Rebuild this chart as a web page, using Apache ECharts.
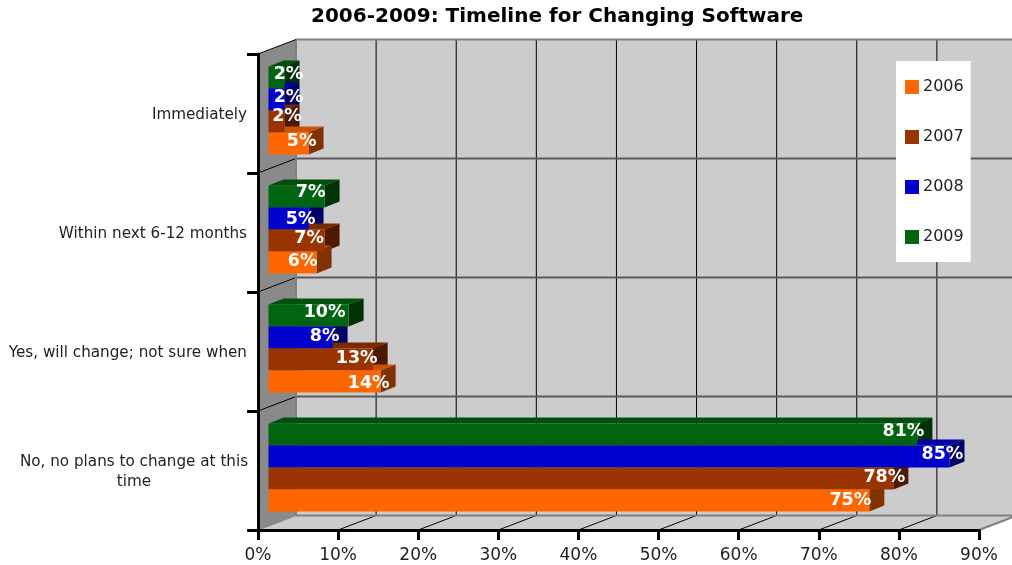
<!DOCTYPE html>
<html>
<head>
<meta charset="utf-8">
<style>html,body{margin:0;padding:0;background:#fff}#c{width:1012px;height:565px}</style>
<script src="https://cdn.jsdelivr.net/npm/echarts@6/dist/echarts.min.js"></script>
</head>
<body>
<div id="c"></div>
<script>
const categories = ['Immediately', 'Within next 6-12 months', 'Yes, will change; not sure when', 'No, no plans to change at this time'];
const legendYears = ['2006', '2007', '2008', '2009'];
const xTicks = [0, 10, 20, 30, 40, 50, 60, 70, 80, 90];
const values2006 = [5, 6, 14, 75];
const values2007 = [2, 7, 13, 78];
const values2008 = [2, 5, 8, 85];
const values2009 = [2, 7, 10, 81];

// hand placement of the value labels, relative to the end of each bar
const nudgeX = { 2006: [-7, -14, -12, -19], 2007: [2.5, -15.5, -16, -9], 2008: [4, -8, -8, -7], 2009: [4, -14, -24, -14] };
const nudgeY = { 2006: [-2, -1, 1.5, 0], 2007: [-5, -2, -1, -1], 2008: [-2, 1, -1, -2], 2009: [-3, -4, -3, -3] };

const FONT = '"DejaVu Sans", Verdana, sans-serif';
const WALL_DX = 38, WALL_DY = -14.5;    // chart depth
const BAR_DX = 15, BAR_DY = -6;         // bar depth
const ORIGIN_DX = 10.5, BAND_DY = -3;   // bar placement inside the depth
const BAR_SHARE = 0.185;                // bar height as a share of a category band

function wallItem(params, api) {
  const size = api.size([0, 1]);
  const band = size[1];
  const bl = api.coord([0, categories[categories.length - 1]]);
  const tr = api.coord([90, categories[0]]);
  const left = bl[0], right = tr[0];
  const bottom = bl[1] + band / 2, top = tr[1] - band / 2;
  const poly = (points, fill) => ({ type: 'polygon', silent: true, shape: { points }, style: { fill } });
  const line = (x1, y1, x2, y2, stroke, lineWidth) => ({ type: 'line', silent: true, shape: { x1, y1, x2, y2 }, style: { stroke, lineWidth } });
  const dx = WALL_DX, dy = WALL_DY;
  const kids = [
    poly([[left + dx, top + dy], [right + dx, top + dy], [right + dx, bottom + dy], [left + dx, bottom + dy]], '#cccccc'),
    poly([[left, top], [left + dx, top + dy], [left + dx, bottom + dy], [left, bottom]], '#8a8a8a'),
    poly([[left, bottom], [right, bottom], [right + dx, bottom + dy], [left + dx, bottom + dy]], '#cccccc')
  ];
  xTicks.forEach((t) => {
    const x = api.coord([t, categories[0]])[0];
    if (t > 0 && t < 90) kids.push(line(x + dx, top + dy, x + dx, bottom + dy, '#000', 1));
    if (t > 0 && t < 90) kids.push(line(x, bottom, x + dx, bottom + dy, '#000', 1));
  });
  categories.forEach((c, i) => {
    const y = top + band * (i + 1);
    if (i < categories.length - 1) {
      kids.push(line(left + dx, y + dy, right + dx, y + dy, '#5a5a5a', 2));
      kids.push(line(left, y, left + dx, y + dy, '#000', 1));
    }
  });
  kids.push(line(left + dx, top + dy, right + dx, top + dy, '#808080', 2));
  kids.push(line(left + dx, bottom + dy, right + dx, bottom + dy, '#808080', 2));
  kids.push(line(left + dx, top + dy, left + dx, bottom + dy, '#808080', 2));
  kids.push(line(left, top, left + dx, top + dy, '#000', 1));
  kids.push(line(left, bottom, left + dx, bottom + dy, '#808080', 1));
  kids.push(line(right, bottom, right + dx, bottom + dy, '#808080', 2));
  return { type: 'group', children: kids };
}

function barRenderer(year, slot, front, topFace, sideFace) {
  return function (params, api) {
    const value = api.value(0);
    const zero = api.coord([0, api.value(1)]);
    const end = api.coord([value, api.value(1)]);
    const band = api.size([0, 1])[1];
    const h = band * BAR_SHARE;
    const x0 = zero[0] + ORIGIN_DX;
    const x1 = end[0] + ORIGIN_DX;
    const y0 = zero[1] + BAND_DY + (slot - 2) * h;
    const y1 = y0 + h;
    const poly = (points, fill, z2) => ({ type: 'polygon', z2, shape: { points }, style: { fill } });
    return {
      type: 'group',
      children: [
        poly([[x0, y0], [x1, y0], [x1 + BAR_DX, y0 + BAR_DY], [x0 + BAR_DX, y0 + BAR_DY]], topFace, slot + 1),
        poly([[x1, y0], [x1 + BAR_DX, y0 + BAR_DY], [x1 + BAR_DX, y1 + BAR_DY], [x1, y1]], sideFace, slot + 1),
        poly([[x0, y0], [x1, y0], [x1, y1], [x0, y1]], front, 10),
        {
          type: 'text',
          z2: 20,
          style: {
            x: x1 + nudgeX[year][params.dataIndex],
            y: (y0 + y1) / 2 + nudgeY[year][params.dataIndex],
            text: value + '%',
            fill: '#fff',
            font: 'bold 17.5px ' + FONT,
            align: 'center',
            verticalAlign: 'middle'
          }
        }
      ]
    };
  };
}

function barSeries(year, values, slot, front, topFace, sideFace) {
  return {
    name: year,
    type: 'custom',
    z: 3,
    silent: true,
    itemStyle: { color: front },
    data: values.map((v, i) => [v, categories[i]]),
    encode: { x: 0, y: 1 },
    renderItem: barRenderer(year, slot, front, topFace, sideFace)
  };
}

const chart = echarts.init(document.getElementById('c'), null, { renderer: 'canvas' });
chart.setOption({
  animation: false,
  backgroundColor: '#fff',
  title: {
    text: '2006-2009: Timeline for Changing Software',
    left: 311,
    top: 7,
    padding: 0,
    textStyle: { fontFamily: FONT, fontWeight: 'bold', fontSize: 20, color: '#000' }
  },
  grid: { left: 258, right: 33, top: 54, bottom: 35 },
  legend: {
    data: legendYears,
    orient: 'vertical',
    left: 896,
    top: 61,
    padding: [18, 7, 17, 9],
    backgroundColor: '#fff',
    borderRadius: 0,
    icon: 'rect',
    itemWidth: 14,
    itemHeight: 14,
    itemGap: 34,
    selectedMode: false,
    textStyle: { fontFamily: FONT, fontSize: 16, color: '#222', padding: [0, 0, 0, -1] }
  },
  xAxis: {
    type: 'value',
    min: 0,
    max: 90,
    interval: 10,
    z: 2,
    splitLine: { show: false },
    axisLine: { show: true, lineStyle: { color: '#000', width: 3 } },
    axisTick: { show: true, length: 10, lineStyle: { color: '#000', width: 3 } },
    axisLabel: {
      formatter: '{value}%',
      margin: 17,
      fontFamily: FONT,
      fontSize: 17,
      color: '#222',
      showMinLabel: true,
      showMaxLabel: true
    }
  },
  yAxis: {
    type: 'category',
    data: categories,
    inverse: true,
    z: 2,
    splitLine: { show: false },
    axisLine: { show: true, onZero: false, lineStyle: { color: '#000', width: 3 } },
    axisTick: { show: true, length: 11, lineStyle: { color: '#000', width: 3 } },
    axisLabel: {
      margin: 11,
      interval: 0,
      fontFamily: FONT,
      fontSize: 15.2,
      color: '#222',
      align: 'right',
      padding: [4, 0, 0, 0],
      formatter: function (name) {
        if (name.length > 32) {
          const cut = name.lastIndexOf(' ');
          return '{c|' + name.slice(0, cut) + '}\n{c|' + name.slice(cut + 1) + '}';
        }
        return name;
      },
      rich: { c: { width: 226, align: 'center', fontFamily: FONT, fontSize: 15.2, color: '#222', lineHeight: 20 } }
    }
  },
  series: [
    {
      type: 'custom',
      z: 1,
      silent: true,
      data: [[0, categories[0]]],
      encode: { x: 0, y: 1 },
      renderItem: wallItem
    },
    barSeries('2009', values2009, 0, '#006411', '#004f0d', '#003208'),
    barSeries('2008', values2008, 1, '#0000cc', '#0000a3', '#000066'),
    barSeries('2007', values2007, 2, '#993300', '#7a2900', '#4d1a00'),
    barSeries('2006', values2006, 3, '#ff6600', '#cc5200', '#803300')
  ]
});
</script>
</body>
</html>
